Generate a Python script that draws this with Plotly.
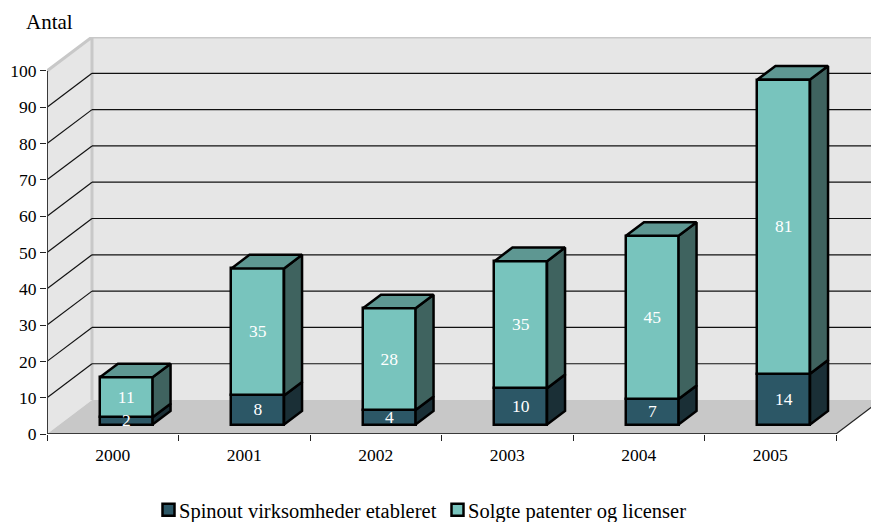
import plotly.graph_objects as go

years = ["2000", "2001", "2002", "2003", "2004", "2005"]
spinout = [2, 8, 4, 10, 7, 14]
solgte = [11, 35, 28, 35, 45, 81]
y_ticks = list(range(0, 101, 10))
series_names = ["Spinout virksomheder etableret", "Solgte patenter og licenser"]

FONT = "Liberation Serif"
W, H = 871, 522
L, T, B = 47, 37, 87.5
PX_X = 131.5
PX_Y = 3.635
DX = 45 / PX_X      # depth in x units
DY = 34 / PX_Y      # depth in y units
BAR_W = 0.4
F0, F1 = 0.3, 0.7   # depth of the bar's front and back
XMAX = (W - L) / PX_X
YMAX = (H - B - T) / PX_Y
n = len(years)

DARK, LIGHT = "#2C5766", "#78C4BD"
SIDE_D, SIDE_L = "#1A2F36", "#3F635F"
TOP_L = "#5E9792"
WALL, FLOOR, EDGE = "#E6E6E6", "#C8C8C8", "#C8C8C8"
xc = [i + 0.5 + F0 * DX for i in range(n)]
base0 = 9.5 / PX_Y
ddx, ddy = (F1 - F0) * DX, (F1 - F0) * DY

fig = go.Figure()


def poly(points):
    return "M" + "L".join(f"{x},{y}" for x, y in points) + "Z"


shapes = [
    dict(type="path", layer="below", line_width=0, fillcolor=WALL,
         path=poly([(0, 0), (DX, DY), (DX, 100 + DY), (0, 100)])),
    dict(type="path", layer="below", line_width=0, fillcolor=WALL,
         path=poly([(DX, DY), (6 + DX, DY), (6 + DX, 100 + DY), (DX, 100 + DY)])),
    dict(type="path", layer="below", line_width=0, fillcolor=FLOOR,
         path=poly([(0, 0), (DX, DY), (6 + DX, DY), (6, 0)])),
    dict(type="line", layer="below", x0=6, y0=0, x1=6 + DX, y1=DY,
         line=dict(color="#222222", width=1.2)),
    dict(type="path", layer="below", fillcolor="rgba(0,0,0,0)",
         line=dict(color=EDGE, width=3),
         path=f"M0,100L{DX},{100 + DY}L{6 + DX},{100 + DY}M{DX},{100 + DY}L{DX},{DY}"),
]
for v in y_ticks[1:-1]:
    shapes.append(dict(type="line", layer="below", x0=0, y0=v, x1=DX, y1=v + DY,
                       line=dict(color="#111111", width=1.2)))
    shapes.append(dict(type="line", layer="below", x0=DX, y0=v + DY, x1=6 + DX, y1=v + DY,
                       line=dict(color="#111111", width=1.2)))

bar_line = dict(color="#000000", width=2.5)
lbl = dict(family=FONT, size=17.5, color="#FFFFFF")
base1 = [base0 + a for a in spinout]
fig.add_trace(go.Bar(x=xc, y=spinout, base=[base0] * n, width=BAR_W, name=series_names[0],
                     marker=dict(color=DARK, line=bar_line), hoverinfo="skip", legend="legend"))
fig.add_trace(go.Bar(x=xc, y=solgte, base=base1, width=BAR_W, name=series_names[1],
                     marker=dict(color=LIGHT, line=bar_line), hoverinfo="skip", legend="legend2"))


def faces(kind, bottoms, heights):
    xs, ys = [], []
    for c, b, h in zip(xc, bottoms, heights):
        r = c + BAR_W / 2
        l = c - BAR_W / 2
        if kind == "side":
            xs += [r, r + ddx, r + ddx, r, r, None]
            ys += [b, b + ddy, b + h + ddy, b + h, b, None]
        else:
            t = b + h
            xs += [l, r, r + ddx, l + ddx, l, None]
            ys += [t, t, t + ddy, t + ddy, t, None]
    return xs, ys


for kind, bot, hts, col in [("side", [base0] * n, spinout, SIDE_D),
                            ("side", base1, solgte, SIDE_L),
                            ("top", base1, solgte, TOP_L)]:
    xs, ys = faces(kind, bot, hts)
    fig.add_trace(go.Scatter(x=xs, y=ys, mode="lines", fill="toself", fillcolor=col,
                             line=dict(color="#000000", width=2.5), showlegend=False,
                             hoverinfo="skip"))

# front axis lines
fig.add_trace(go.Scatter(x=[0, 0, 6], y=[100, 0, 0], mode="lines", cliponaxis=False,
                         line=dict(color="#3A3A3A", width=2), showlegend=False,
                         hoverinfo="skip"))

# value labels, on top of every bar edge
for vals, bot in [(spinout, [base0] * n), (solgte, base1)]:
    fig.add_trace(go.Scatter(x=xc, y=[b + v / 2 - 0.3 for b, v in zip(bot, vals)], mode="text",
                             text=[str(v) for v in vals], textposition="middle center",
                             textfont=lbl, showlegend=False, hoverinfo="skip"))

legend_common = dict(orientation="h", xref="container", yref="container", xanchor="left",
                     yanchor="middle", y=1 - 510 / H, traceorder="normal",
                     font=dict(family=FONT, size=20.5, color="#000000"),
                     bgcolor="rgba(0,0,0,0)", itemclick=False, itemdoubleclick=False)

fig.update_layout(
    width=W, height=H, autosize=False,
    margin=dict(l=L, r=0, t=T, b=B, autoexpand=False),
    paper_bgcolor="#FFFFFF", plot_bgcolor="rgba(0,0,0,0)",
    barmode="overlay", shapes=shapes, font=dict(family=FONT, size=17.5, color="#000000"),
    bargap=0,
    xaxis=dict(range=[0, XMAX], tickmode="array", tickvals=[i + 0.5 for i in range(n)],
               ticktext=years, ticks="", showgrid=False, zeroline=False, showline=False,
               tickfont=dict(family=FONT, size=17.5, color="#000000"), ticklabelstandoff=8,
               minor=dict(tickmode="array", tickvals=list(range(n + 1)), ticks="outside",
                          ticklen=6, tickwidth=1.2, tickcolor="#222222", showgrid=False)),
    yaxis=dict(range=[0, YMAX], tickmode="array", tickvals=y_ticks, ticks="outside",
               ticklen=6, tickwidth=1.2, tickcolor="#222222", showgrid=False, zeroline=False,
               showline=False, tickfont=dict(family=FONT, size=17.5, color="#000000")),
    legend=dict(legend_common, x=139 / W),
    legend2=dict(legend_common, x=428 / W),
    annotations=[dict(text="Antal", xref="paper", yref="paper", x=-23 / (W - L), y=1 + 15 / (H - T - B),
                      xanchor="left", yanchor="middle", showarrow=False,
                      font=dict(family=FONT, size=21, color="#000000"))],
)

post = """
document.body.style.margin = '0';
document.querySelectorAll('.legendsymbols').forEach(function (g) {
  g.setAttribute('transform', 'translate(9.5,0)');
});
"""
fig.write_html("out.html", config={"displayModeBar": False}, post_script=post)
